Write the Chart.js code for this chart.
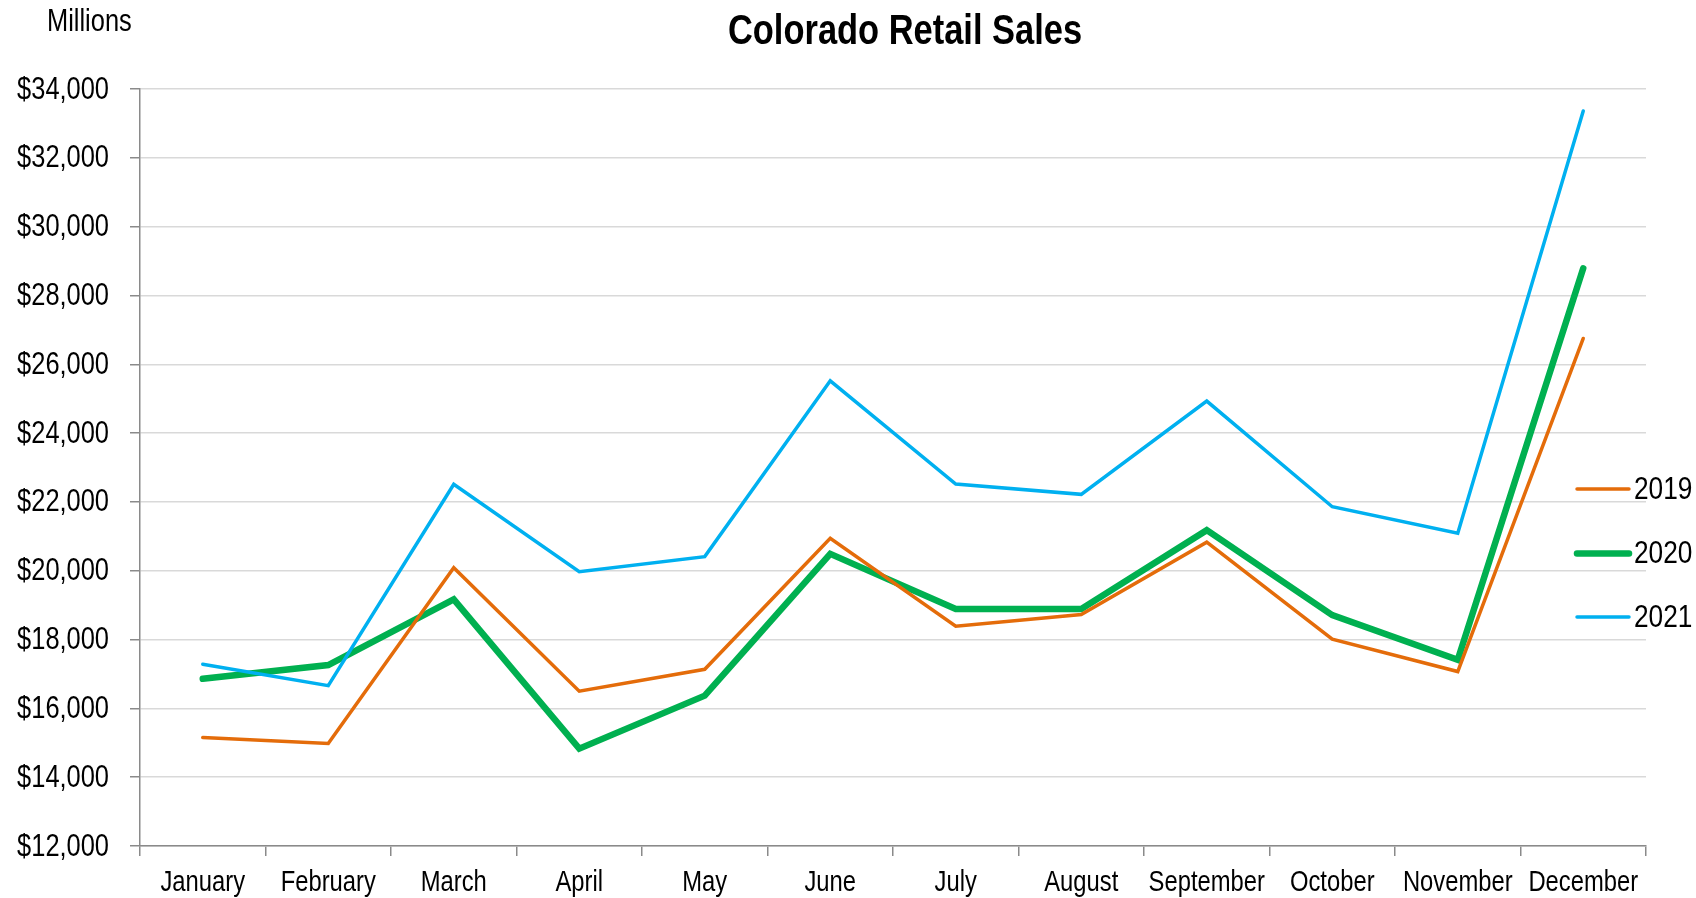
<!DOCTYPE html>
<html>
<head>
<meta charset="utf-8">
<script src="https://cdn.jsdelivr.net/npm/chart.js@4/dist/chart.umd.min.js"></script>
<style>
  html, body { margin: 0; padding: 0; background: #ffffff; }
  #wrap { width: 1696px; height: 898px; position: relative; }
</style>
</head>
<body>
<div id="wrap"><canvas id="c" width="1696" height="898"></canvas></div>
<script>
const chartTitle = "Colorado Retail Sales";
const unitLabel = "Millions";
const months = ["January","February","March","April","May","June","July","August","September","October","November","December"];
const seriesNames = ["2019","2020","2021"];
const sales2019 = [15150, 14980, 20090, 16500, 17135, 20940, 18390, 18730, 20830, 18010, 17070, 26750];
const sales2020 = [16860, 17260, 19170, 14830, 16370, 20490, 18890, 18890, 21180, 18710, 17410, 28790];
const sales2021 = [17280, 16660, 22510, 19970, 20410, 25520, 22520, 22220, 24930, 21860, 21090, 33360];
const yMin = 12000, yMax = 34000, yStep = 2000;

const FONT = '"Liberation Sans", Arial, sans-serif';
const NARROW = 0.82; // horizontal squeeze to mimic a narrow face
const colors = ["#E46C0A", "#00B050", "#00B0F0"];
const widths = [3.5, 6.5, 3.5];

function narrowText(ctx, text, x, y, font, align, baseline) {
  ctx.save();
  ctx.font = font;
  ctx.textAlign = align;
  ctx.textBaseline = baseline;
  ctx.fillStyle = '#000';
  ctx.translate(x, y);
  ctx.scale(NARROW, 1);
  ctx.fillText(text, 0, 0);
  ctx.restore();
}

const fmt = v => '$' + Number(v).toLocaleString('en-US');

const overlay = {
  id: 'overlay',
  afterDraw(chart) {
    const ctx = chart.ctx;
    const a = chart.chartArea;
    // title and unit label
    narrowText(ctx, chartTitle, (a.left + a.right) / 2 + 12, 44, 'bold 42px ' + FONT, 'center', 'alphabetic');
    narrowText(ctx, unitLabel, 47, 31, '31px ' + FONT, 'left', 'alphabetic');
    // y tick labels from the library's scale
    const ys = chart.scales.y;
    ys.ticks.forEach((t, i) => {
      narrowText(ctx, fmt(t.value), 109, ys.getPixelForTick(i) + 1, '31px ' + FONT, 'right', 'middle');
    });
    // x tick labels from the library's scale
    const xs = chart.scales.x;
    xs.ticks.forEach((t, i) => {
      narrowText(ctx, xs.getLabelForValue(t.value), xs.getPixelForTick(i), 891, '29px ' + FONT, 'center', 'alphabetic');
    });
    // legend
    const ly = [489, 553.5, 617];
    chart.data.datasets.forEach((ds, i) => {
      ctx.save();
      ctx.strokeStyle = ds.borderColor;
      ctx.lineWidth = ds.borderWidth;
      ctx.lineCap = 'round';
      ctx.beginPath();
      ctx.moveTo(1577, ly[i]);
      ctx.lineTo(1629, ly[i]);
      ctx.stroke();
      ctx.restore();
      narrowText(ctx, ds.label, 1634, ly[i] + 1, '32px ' + FONT, 'left', 'middle');
    });
  }
};

const dataSets = [sales2019, sales2020, sales2021].map((vals, i) => ({
  label: seriesNames[i],
  data: vals,
  borderColor: colors[i],
  backgroundColor: colors[i],
  borderWidth: widths[i],
  borderCapStyle: 'round',
  borderJoinStyle: 'miter',
  pointRadius: 0,
  pointHoverRadius: 0,
  tension: 0,
  fill: false,
  order: i === 1 ? 1 : 0
}));

new Chart(document.getElementById('c'), {
  type: 'line',
  data: { labels: months, datasets: dataSets },
  options: {
    responsive: false,
    animation: false,
    devicePixelRatio: 1,
    layout: { padding: { top: 89, right: 50, left: 0, bottom: 0 } },
    plugins: {
      legend: { display: false },
      title: { display: false },
      tooltip: { enabled: false }
    },
    scales: {
      x: {
        type: 'category',
        offset: true,
        grid: {
          offset: true,
          drawOnChartArea: false,
          drawTicks: true,
          tickLength: 10,
          tickColor: '#8a8a8a',
          lineWidth: 1.5
        },
        border: { display: true, color: '#8a8a8a', width: 1.5 },
        ticks: { display: false, autoSkip: false, maxRotation: 0 },
        afterFit(scale) { scale.height = 52; }
      },
      y: {
        min: yMin,
        max: yMax,
        grid: {
          color: '#d9d9d9',
          lineWidth: 1.5,
          drawTicks: true,
          tickLength: 10,
          tickColor: '#8a8a8a'
        },
        border: { display: true, color: '#8a8a8a', width: 1.5 },
        ticks: { display: false, stepSize: yStep },
        afterFit(scale) { scale.width = 140; }
      }
    }
  },
  plugins: [overlay]
});
</script>
</body>
</html>
